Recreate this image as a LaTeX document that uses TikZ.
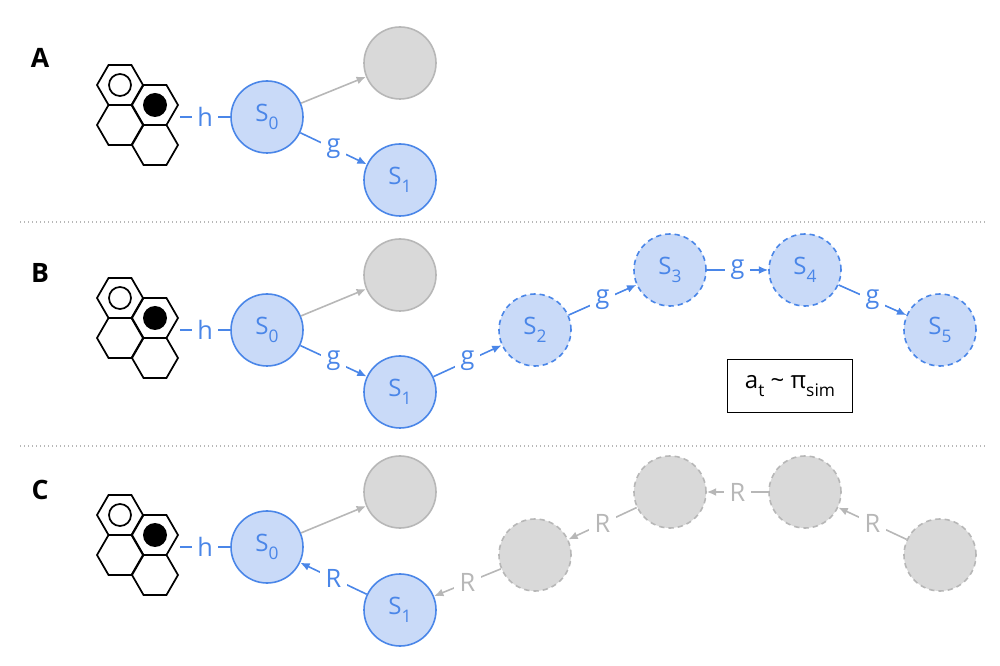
\documentclass[tikz,border=0pt]{standalone}
\usepackage{fontspec}
\setmainfont{Open Sans}
\setsansfont{Open Sans}
\usetikzlibrary{arrows.meta,calc}
\definecolor{blu}{HTML}{4A86E8}
\definecolor{bluf}{HTML}{C9DAF8}
\definecolor{gry}{HTML}{B7B7B7}
\definecolor{gryf}{HTML}{D9D9D9}
\tikzset{
  st/.style={circle,draw=blu,fill=bluf,line width=1.2pt,minimum size=54pt,inner sep=0pt,text=blu,font=\fontsize{18}{18}\selectfont},
  sim/.style={st,dash pattern=on 4pt off 3pt},
  gst/.style={circle,draw=gry,fill=gryf,line width=1.2pt,minimum size=54pt},
  gsim/.style={gst,dash pattern=on 4pt off 3pt},
  ed/.style={blu,line width=1.2pt,-{Latex[length=7pt,width=6pt]}},
  ged/.style={gry,line width=1.2pt,-{Latex[length=7pt,width=6pt]}},
  lb/.style={fill=white,inner sep=4pt,font=\fontsize{19}{19}\selectfont},
  panel/.style={font=\bfseries\fontsize{20}{20}\selectfont}
}
\newcommand{\sub}[1]{\raisebox{-0.35em}{\fontsize{13}{13}\selectfont #1}}
\newcommand{\board}[2]{%
  \foreach \cx/\cy in {120/85,120/125,155/105,155/145}
    \draw[line width=1.3pt] ($(#1+\cx,#2+\cy)$) ++(0:23) -- ++(120:23) -- ++(180:23) -- ++(240:23) -- ++(300:23) -- ++(0:23) -- cycle;
  \draw[line width=1.3pt] (#1+120,#2+85) circle (11);
  \fill (#1+155,#2+105) circle (12);
}
\begin{document}
\begin{tikzpicture}[x=0.75pt,y=-0.75pt]
\useasboundingbox (0,0) rectangle (1000,666);
% panels
\node[panel] (pA) at (40,58) {A};
\node[panel] (pB) at (40,273) {B};
\node[panel] (pC) at (40,490) {C};
\draw[gry,line width=1pt,dotted] (20,222) -- (985,222);
\draw[gry,line width=1pt,dotted] (20,446) -- (985,446);
% A
\board{0}{0}
\coordinate (hA) at (180,117);
\node[st] (A0) at (267,117) {S\sub{0}};
\node[gst] (Ag) at (400,63) {};
\node[st] (A1) at (400,180) {S\sub{1}};
\draw[blu,line width=1.2pt] (hA) -- (A0) node[lb,midway,text=blu] {h};
\draw[ged] (A0) -- (Ag);
\draw[ed] (A0) -- (A1) node[lb,midway,text=blu] {g};
% B
\board{0}{213}
\coordinate (hB) at (180,330);
\node[st] (B0) at (267,330) {S\sub{0}};
\node[gst] (Bg) at (400,275) {};
\node[st] (B1) at (400,392) {S\sub{1}};
\node[sim] (B2) at (535,330) {S\sub{2}};
\node[sim] (B3) at (670,270) {S\sub{3}};
\node[sim] (B4) at (805,270) {S\sub{4}};
\node[sim] (B5) at (940,330) {S\sub{5}};
\draw[blu,line width=1.2pt] (hB) -- (B0) node[lb,midway,text=blu] {h};
\draw[ged] (B0) -- (Bg);
\draw[ed] (B0) -- (B1) node[lb,midway,text=blu] {g};
\draw[ed] (B1) -- (B2) node[lb,midway,text=blu] {g};
\draw[ed] (B2) -- (B3) node[lb,midway,text=blu] {g};
\draw[ed] (B3) -- (B4) node[lb,midway,text=blu] {g};
\draw[ed] (B4) -- (B5) node[lb,midway,text=blu] {g};
\node[draw,line width=0.8pt,minimum width=94pt,minimum height=40pt,font=\fontsize{18}{18}\selectfont] (pol) at (790,386) {a\sub{t} \textasciitilde{} π\sub{sim}};
% C
\board{0}{430}
\coordinate (hC) at (180,547);
\node[st] (C0) at (267,547) {S\sub{0}};
\node[gst] (Cg) at (400,492) {};
\node[st] (C1) at (400,610) {S\sub{1}};
\node[gsim] (C2) at (535,555) {};
\node[gsim] (C3) at (670,492) {};
\node[gsim] (C4) at (805,492) {};
\node[gsim] (C5) at (940,555) {};
\draw[blu,line width=1.2pt] (hC) -- (C0) node[lb,midway,text=blu] {h};
\draw[ged] (C0) -- (Cg);
\draw[ed] (C1) -- (C0) node[lb,midway,text=blu] {R};
\draw[ged] (C2) -- (C1) node[lb,midway,text=gry] {R};
\draw[ged] (C3) -- (C2) node[lb,midway,text=gry] {R};
\draw[ged] (C4) -- (C3) node[lb,midway,text=gry] {R};
\draw[ged] (C5) -- (C4) node[lb,midway,text=gry] {R};
\end{tikzpicture}
\end{document}
